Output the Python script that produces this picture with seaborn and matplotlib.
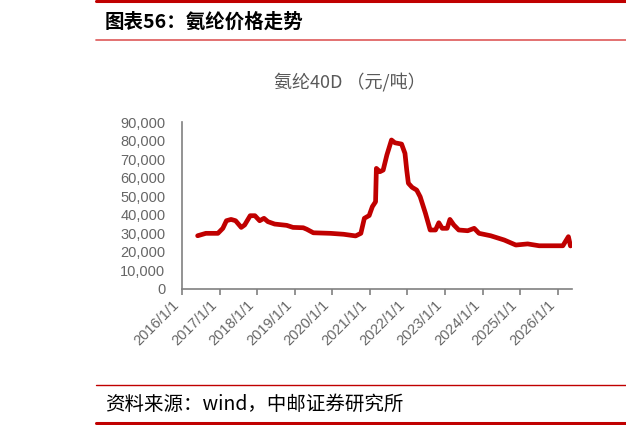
import pandas as pd
import numpy as np
import matplotlib.pyplot as plt
import matplotlib.ticker as mticker
import seaborn as sns
from matplotlib.lines import Line2D

sns.set_theme(style='white')
plt.rcParams['font.family'] = ['Liberation Sans', 'Noto Sans CJK SC', 'DejaVu Sans']
plt.rcParams['axes.unicode_minus'] = False

# 氨纶40D 价格（元/吨）
dates = ['2016-06-01', '2016-08-20', '2016-12-15', '2017-02-01', '2017-03-08',
         '2017-04-22', '2017-06-05', '2017-07-30', '2017-09-01', '2017-10-25',
         '2017-12-10', '2018-01-25', '2018-03-08', '2018-04-15', '2018-06-20',
         '2018-10-15', '2018-12-15', '2019-03-25', '2019-04-28', '2019-07-01',
         '2019-12-15', '2020-04-20', '2020-08-15', '2020-10-05', '2020-11-08',
         '2020-12-25', '2021-01-25', '2021-02-25', '2021-03-05', '2021-04-08',
         '2021-05-10', '2021-06-15', '2021-07-30', '2021-09-01', '2021-11-05',
         '2021-12-08', '2021-12-25', '2022-01-10', '2022-02-15', '2022-04-01',
         '2022-05-05', '2022-06-25', '2022-08-10', '2022-10-01', '2022-11-02',
         '2022-12-05', '2023-01-22', '2023-02-18', '2023-03-28', '2023-05-15',
         '2023-08-10', '2023-10-12', '2023-11-28', '2024-03-20', '2024-07-30',
         '2024-11-20', '2025-03-15', '2025-07-05', '2026-02-20', '2026-04-15',
         '2026-05-05']
prices = [28700, 30000, 30000, 32700, 36800,
          37500, 36800, 33200, 34500, 39500,
          39500, 36800, 38100, 36300, 35000,
          34300, 33200, 33000, 32200, 30300,
          30000, 29500, 28600, 30000, 38100,
          39600, 44400, 47000, 65000, 63200,
          64100, 72200, 80300, 78800, 78100,
          73100, 64100, 57000, 54800, 53300,
          49700, 40800, 31800, 31800, 35700,
          32700, 32700, 37500, 34500, 31800,
          31400, 32700, 30000, 28700, 26400,
          23700, 24300, 23300, 23300, 28200,
          23200]

tick_dates = ['2016-01-01', '2017-01-01', '2018-01-01', '2019-01-01', '2020-01-01',
              '2021-01-01', '2022-01-01', '2023-01-01', '2024-01-01', '2025-01-01',
              '2026-01-01']
tick_labels = ['2016/1/1', '2017/1/1', '2018/1/1', '2019/1/1', '2020/1/1',
               '2021/1/1', '2022/1/1', '2023/1/1', '2024/1/1', '2025/1/1',
               '2026/1/1']

df = pd.DataFrame({'date': pd.to_datetime(dates), 'price': prices})

fig = plt.figure(figsize=(6.26, 4.25), dpi=100)
ax = fig.add_axes([182 / 626, 1 - 289 / 425, (572 - 182) / 626, (289 - 122) / 425])

sns.lineplot(data=df, x='date', y='price', ax=ax, color='#C00000', linewidth=3.4)

ax.set_xlim(pd.Timestamp('2016-01-01'), pd.Timestamp('2026-05-20'))
ax.set_ylim(0, 90000)
ax.set_yticks(np.arange(0, 90001, 10000))
ax.yaxis.set_major_formatter(mticker.FuncFormatter(lambda v, p: f'{int(v):,}'))
ax.set_xticks(pd.to_datetime(tick_dates))
ax.set_xticklabels(tick_labels, rotation=45, ha='right')
ax.set_xlabel('')
ax.set_ylabel('')

for s in ['top', 'right']:
    ax.spines[s].set_visible(False)
for s in ['left', 'bottom']:
    ax.spines[s].set_color('#808080')
    ax.spines[s].set_linewidth(1.2)
ax.tick_params(axis='y', length=0, pad=12, labelsize=10.5, labelcolor='#666666')
ax.tick_params(axis='x', length=4, width=1.2, color='#808080', direction='out',
               bottom=True, pad=2, labelsize=10.5, labelcolor='#666666')
ax.grid(False)

fig.text(350 / 626, 1 - 82 / 425, '氨纶40D （元/吨）', ha='center', va='center',
         fontsize=13, color='#595959', family=['Noto Sans CJK SC', 'DejaVu Sans'])

# 页眉与页脚
fig.add_artist(Line2D([96 / 626, 1], [1 - 1 / 425, 1 - 1 / 425], color='#C00000', linewidth=2.2))
fig.add_artist(Line2D([96 / 626, 1], [1 - 40 / 425, 1 - 40 / 425], color='#E06666', linewidth=1.3))
fig.text(105 / 626, 1 - 22 / 425, '图表56：氨纶价格走势', ha='left', va='center',
         fontsize=14, color='black', fontweight='bold',
         family=['Noto Sans CJK SC', 'DejaVu Sans'])
fig.add_artist(Line2D([96 / 626, 1], [1 - 385 / 425, 1 - 385 / 425], color='#C00000', linewidth=1.0))
fig.text(105 / 626, 1 - 404 / 425, '资料来源：wind，中邮证券研究所', ha='left', va='center',
         fontsize=14, color='black', family=['Noto Sans CJK SC', 'DejaVu Sans'])
fig.add_artist(Line2D([96 / 626, 1], [1 - 423 / 425, 1 - 423 / 425], color='#C00000', linewidth=2.2))

fig.savefig('out.png', dpi=100)
